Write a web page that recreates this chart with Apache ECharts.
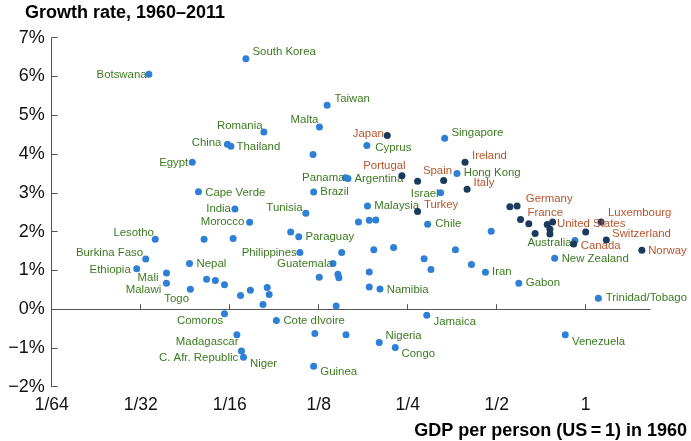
<!DOCTYPE html>
<html>
<head>
<meta charset="utf-8">
<script src="https://cdn.jsdelivr.net/npm/echarts@6/dist/echarts.min.js"></script>
<style>
html,body{margin:0;padding:0;background:#fff;}
#chart{width:691px;height:441px;}
</style>
</head>
<body>
<div id="chart"></div>
<script>
// Developing economies (light-blue dots, green labels); '' = unlabeled
var devNames = ['Botswana','South Korea','Taiwan','Malta','Romania','China','Thailand','','Egypt','Panama','Argentina','Cape Verde','Brazil','India','Tunisia','Cyprus','Singapore','Hong Kong','Israel','Malaysia','','','','Chile','','Lesotho','Burkina Faso','Ethiopia','Mali','Malawi','Nepal','Togo','','','Morocco','','Paraguay','Philippines','','Guatemala','','','','','','','Iran','','','','','','Namibia','Gabon','Trinidad/Tobago','New Zealand','Australia','Venezuela','Jamaica','Nigeria','Congo','','','Guinea','','','','','','','','','','Comoros','Cote dIvoire','Madagascar','C. Afr. Republic','Niger'];
var devGdp = [0.0333,0.0709,0.1335,0.1257,0.0816,0.0614,0.0631,0.1196,0.0467,0.154,0.157,0.049,0.1202,0.0651,0.1131,0.1819,0.3335,0.367,0.323,0.1828,0.1704,0.1853,0.195,0.292,0.479,0.035,0.0325,0.0303,0.0382,0.0382,0.0457,0.046,0.0512,0.0642,0.073,0.1005,0.107,0.108,0.1495,0.1397,0.192,0.224,0.3625,0.284,0.4107,0.2996,0.458,0.1255,0.1452,0.1463,0.1853,0.1853,0.2015,0.594,1.1034,0.7851,0.92,0.8528,0.29,0.2003,0.2269,0.1546,0.1213,0.1202,0.1432,0.0522,0.0559,0.06,0.068,0.0734,0.0837,0.085,0.081,0.06,0.0899,0.0661,0.0685,0.0696];
var devGrowth = [6.06,6.46,5.26,4.70,4.57,4.25,4.20,3.99,3.79,3.39,3.37,3.03,3.02,2.58,2.47,4.22,4.41,3.50,3.00,2.66,2.25,2.29,2.30,2.19,2.01,1.80,1.29,1.04,0.93,0.67,1.18,0.51,1.80,1.82,2.24,1.99,1.87,1.46,1.46,1.18,1.53,1.59,1.53,1.30,1.15,1.02,0.95,0.82,0.90,0.81,0.96,0.57,0.52,0.67,0.28,1.31,1.77,-0.66,-0.16,-0.86,-0.99,-0.66,-0.63,-1.47,0.08,0.77,0.74,0.63,0.35,0.49,0.56,0.38,0.12,-0.12,-0.29,-0.66,-1.08,-1.24];

// Rich economies (navy dots, orange labels)
var richNames = ['Japan','Portugal','Spain','','Ireland','Italy','Turkey','','Germany','France','','','','','','','United States','Luxembourg','Switzerland','Canada','Norway'];
var richGdp = [0.2132,0.239,0.27,0.3308,0.3907,0.397,0.27,0.554,0.586,0.602,0.642,0.6745,0.7413,0.7728,0.7568,0.7568,1.0,1.1267,1.1744,0.9106,1.5485];
var richGrowth = [4.48,3.44,3.30,3.32,3.79,3.09,2.52,2.64,2.66,2.31,2.20,1.95,2.18,2.25,2.06,1.94,1.99,2.25,1.78,1.68,1.52];

// Axis ticks
var xTickValues = [1/32,1/16,1/8,1/4,1/2,1];
var xLabelValues = [1/64,1/32,1/16,1/8,1/4,1/2,1];

// Label placement: [side, gap from dot centre to text edge, vertical shift]
var labelPlace = {
  'Botswana':['left',2.3,0.7],'Malta':['left',1,-6.7],'Romania':['left',1.4,-6],'China':['left',6,-1.6],
  'Egypt':['left',4,1],'Panama':['left',1,0.6],'India':['left',4,0],'Tunisia':['left',3.2,-6],
  'Japan':['left',3.4,-1.5],'Portugal':['left',-3.7,-10],'Israel':['left',2,0.6],'Lesotho':['left',1.3,-6],
  'Burkina Faso':['left',2.7,-6.3],'Ethiopia':['left',6,0.6],'Mali':['left',8,5],'Malawi':['left',5.3,7],
  'Togo':['left',1.3,9.5],'Morocco':['left',5.3,0],'Philippines':['left',3.2,0],'Guatemala':['left',0.2,0],
  'Comoros':['left',1.3,7.3],'Madagascar':['left',-1.6,7.3],'C. Afr. Republic':['left',3.3,6.7],'Australia':['left',3.3,2.2],
  'South Korea':['right',6.6,-6.7],'Taiwan':['right',7.3,-6.3],'Thailand':['right',5.6,0.7],'Argentina':['right',6.5,0.7],
  'Cape Verde':['right',6.7,1],'Brazil':['right',6.7,0],'Cyprus':['right',8.4,2.7],'Singapore':['right',6.7,-5.7],
  'Ireland':['right',7,-6.3],'Spain':['right',5.3,-10.3],'Hong Kong':['right',6.7,-0.3],'Italy':['right',6.4,-6.2],
  'Malaysia':['right',6.7,0],'Turkey':['right',6.3,-6.8],'Germany':['right',8.7,-6.8],'France':['right',7,-7],
  'Luxembourg':['right',7,-9.4],'United States':['right',-28.7,-8.3],'Nepal':['right',7,0],'Paraguay':['right',6.7,0.6],
  'Cote dIvoire':['right',7,0],'Niger':['right',6.4,6.7],'Guinea':['right',6.7,5.3],'Namibia':['right',6.8,1.2],
  'Jamaica':['right',6.8,6.5],'Nigeria':['right',6.3,-6.5],'Congo':['right',6.3,6.4],'Chile':['right',7.7,0],
  'Iran':['right',6.6,0],'Gabon':['right',7,0],'Trinidad/Tobago':['right',7.4,0],'Venezuela':['right',6.7,7],
  'New Zealand':['right',7,0.7],'Canada':['right',7,1.7],'Switzerland':['right',5.7,-6.3],'Norway':['right',6.3,0.7]
};

var FONT = '"Liberation Sans", Arial, Helvetica, sans-serif';
var R = 3.5;

function build(names, xs, ys, textColor) {
  return names.map(function (n, i) {
    var item = { name: n, value: [xs[i], ys[i]] };
    var p = labelPlace[n];
    if (n && p) {
      var ox = p[0] === 'right' ? p[1] - R : R - p[1];
      item.label = {
        show: true, position: p[0], distance: 0, offset: [ox, p[2]],
        formatter: n, color: textColor, fontSize: 11.4, fontFamily: FONT
      };
    }
    return item;
  });
}

var chart = echarts.init(document.getElementById('chart'), null, { renderer: 'canvas' });
chart.setOption({
  animation: false,
  backgroundColor: '#fff',
  title: [
    { text: 'Growth rate, 1960\u20132011', left: 25, top: 4, padding: 0,
      textStyle: { fontSize: 18, fontWeight: 'bold', color: '#000', fontFamily: FONT } },
    { text: 'GDP per person (US\u2009=\u20091) in 1960', right: 4, top: 422, padding: 0,
      textStyle: { fontSize: 18, fontWeight: 'bold', color: '#000', fontFamily: FONT } }
  ],
  grid: { left: 51.7, right: 41, top: 37.7, bottom: 54.3, containLabel: false },
  xAxis: {
    type: 'log', logBase: 2, min: 1/64, max: 1.65,
    axisLine: { show: true, lineStyle: { color: '#555', width: 1 } },
    axisTick: { show: true, inside: true, length: 5, customValues: xTickValues, lineStyle: { color: '#555' } },
    axisLabel: {
      customValues: xLabelValues, margin: 9, fontSize: 17.5, color: '#111', fontFamily: FONT,
      formatter: function (v) { return v >= 0.999 ? '1' : '1/' + Math.round(1 / v); }
    },
    splitLine: { show: false }, minorTick: { show: false }
  },
  yAxis: {
    type: 'value', min: -2, max: 7, interval: 1,
    axisLine: { show: true, lineStyle: { color: '#555', width: 1 } },
    axisTick: { show: true, inside: true, length: 6, lineStyle: { color: '#555' } },
    axisLabel: {
      margin: 7, fontSize: 18, color: '#111', fontFamily: FONT,
      formatter: function (v) { return (v < 0 ? '\u2212' + (-v) : v) + '%'; }
    },
    splitLine: { show: false }
  },
  series: [
    { type: 'scatter', symbol: 'circle', symbolSize: 7,
      itemStyle: { color: '#2e7fd6', opacity: 1 },
      data: build(devNames, devGdp, devGrowth, '#3b7a20'), z: 2 },
    { type: 'scatter', symbol: 'circle', symbolSize: 7,
      itemStyle: { color: '#1b3a5e', opacity: 1 },
      data: build(richNames, richGdp, richGrowth, '#b8532b'), z: 3 }
  ]
});
</script>
</body>
</html>
